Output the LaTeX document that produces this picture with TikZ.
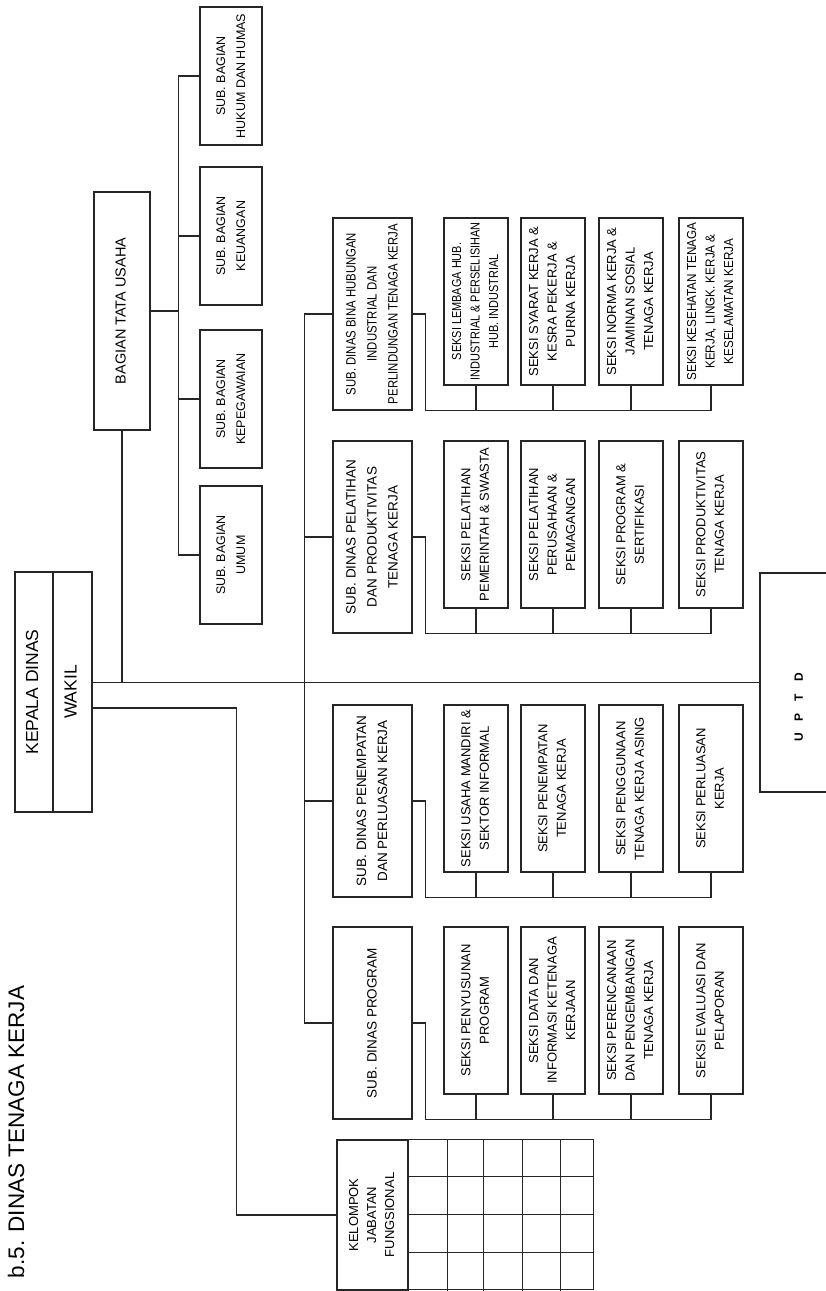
\documentclass[tikz,border=0pt]{standalone}
\usepackage{fontspec}
\usepackage{graphicx}
\setmainfont{Liberation Sans}
\usetikzlibrary{calc}

% rotated label, squeezed when longer than #1
\newsavebox\lblbox
\newcommand\vtext[2]{%
  \sbox\lblbox{\begin{tabular}{@{}c@{}}#2\end{tabular}}%
  \rotatebox{90}{\ifdim\wd\lblbox>#1\relax\resizebox{#1}{\height}{\usebox\lblbox}\else\usebox\lblbox\fi}}

\begin{document}
\begin{tikzpicture}[x=1pt,y=-1pt,
    box/.style={draw=black!85,line width=1.2pt,inner sep=0pt},
    link/.style={draw=black!85,line width=1.2pt},
    seksi/.style={box,minimum width=64pt,minimum height=167pt,font=\fontsize{13}{18.5}\selectfont},
    subdinas/.style={box,minimum width=79pt,minimum height=192pt,font=\fontsize{13.5}{21}\selectfont},
    subbag/.style={box,minimum width=62pt,minimum height=138pt,font=\fontsize{12.5}{20}\selectfont}]
    \useasboundingbox (0,0) rectangle (826,1291);

    \node[rotate=90,font=\fontsize{22.5}{26}\selectfont] (title) at (16,1132) {b.5. DINAS TENAGA KERJA};

    % pimpinan
    \node[box,minimum width=38pt,minimum height=240pt,font=\fontsize{17.5}{21}\selectfont]
        (kd) at (34,692) {\vtext{230pt}{KEPALA DINAS}};
    \node[box,minimum width=39pt,minimum height=240pt,font=\fontsize{17.5}{21}\selectfont]
        (wk) at (72.5,692) {\vtext{230pt}{WAKIL}};
    \node[box,minimum width=80pt,minimum height=219pt,font=\bfseries\fontsize{12}{14}\selectfont]
        (uptd) at (800,682.5) {\vtext{200pt}{U\quad P\quad T\quad D\hspace*{50pt}}};

    % sekretariat
    \node[box,minimum width=56pt,minimum height=238pt,font=\fontsize{14.5}{18}\selectfont]
        (btu) at (122,311) {\vtext{220pt}{BAGIAN TATA USAHA}};
    \node[subbag] (hk) at (231,76) {\vtext{128pt}{SUB. BAGIAN\\HUKUM DAN HUMAS}};
    \node[subbag] (ku) at (231,236) {\vtext{128pt}{SUB. BAGIAN\\KEUANGAN}};
    \node[subbag] (kp) at (231,399) {\vtext{128pt}{SUB. BAGIAN\\KEPEGAWAIAN}};
    \node[subbag] (um) at (231,555) {\vtext{128pt}{SUB. BAGIAN\\UMUM}};

    % sub dinas
    \node[subdinas] (sdbh) at (372.5,314) {\vtext{180pt}{SUB. DINAS BINA HUBUNGAN\\INDUSTRIAL DAN\\PERLINDUNGAN TENAGA KERJA}};
    \node[subdinas] (sdpl) at (372.5,537) {\vtext{180pt}{SUB. DINAS PELATIHAN\\DAN PRODUKTIVITAS\\TENAGA KERJA}};
    \node[subdinas] (sdpp) at (372.5,801) {\vtext{180pt}{SUB. DINAS PENEMPATAN\\DAN PERLUASAN KERJA}};
    \node[subdinas] (sdpr) at (372.5,1023) {\vtext{180pt}{SUB. DINAS PROGRAM}};

    % seksi
    \node[seksi] (bh1) at (476,301.5) {\vtext{158pt}{SEKSI LEMBAGA HUB.\\INDUSTRIAL \& PERSELISIHAN\\HUB. INDUSTRIAL}};
    \node[seksi] (bh2) at (553,301.5) {\vtext{158pt}{SEKSI SYARAT KERJA \&\\KESRA PEKERJA \&\\PURNA KERJA}};
    \node[seksi] (bh3) at (631,301.5) {\vtext{158pt}{SEKSI NORMA KERJA \&\\JAMINAN SOSIAL\\TENAGA KERJA}};
    \node[seksi] (bh4) at (711,301.5) {\vtext{158pt}{SEKSI KESEHATAN TENAGA\\KERJA, LINGK. KERJA \&\\KESELAMATAN KERJA}};

    \node[seksi] (pl1) at (476,524.5) {\vtext{158pt}{SEKSI PELATIHAN\\PEMERINTAH \& SWASTA}};
    \node[seksi] (pl2) at (553,524.5) {\vtext{158pt}{SEKSI PELATIHAN\\PERUSAHAAN \&\\PEMAGANGAN}};
    \node[seksi] (pl3) at (631,524.5) {\vtext{158pt}{SEKSI PROGRAM \&\\SERTIFIKASI}};
    \node[seksi] (pl4) at (711,524.5) {\vtext{158pt}{SEKSI PRODUKTIVITAS\\TENAGA KERJA}};

    \node[seksi] (pp1) at (476,788.5) {\vtext{158pt}{SEKSI USAHA MANDIRI \&\\SEKTOR INFORMAL}};
    \node[seksi] (pp2) at (553,788.5) {\vtext{158pt}{SEKSI PENEMPATAN\\TENAGA KERJA}};
    \node[seksi] (pp3) at (631,788.5) {\vtext{158pt}{SEKSI PENGGUNAAN\\TENAGA KERJA ASING}};
    \node[seksi] (pp4) at (711,788.5) {\vtext{158pt}{SEKSI PERLUASAN\\KERJA}};

    \node[seksi] (pr1) at (476,1010.5) {\vtext{158pt}{SEKSI PENYUSUNAN\\PROGRAM}};
    \node[seksi] (pr2) at (553,1010.5) {\vtext{158pt}{SEKSI DATA DAN\\INFORMASI KETENAGA\\KERJAAN}};
    \node[seksi] (pr3) at (631,1010.5) {\vtext{158pt}{SEKSI PERENCANAAN\\DAN PENGEMBANGAN\\TENAGA KERJA}};
    \node[seksi] (pr4) at (711,1010.5) {\vtext{158pt}{SEKSI EVALUASI DAN\\PELAPORAN}};

    % kelompok jabatan fungsional
    \node[box,minimum width=71pt,minimum height=150pt,font=\fontsize{13}{18}\selectfont]
        (kjf) at (372.5,1215) {\vtext{140pt}{KELOMPOK\\JABATAN\\FUNGSIONAL}};
    \draw[link,line width=1.5pt] (kjf.north east) rectangle ++(185,150);
    \foreach \x in {39,75,114,152}
        \draw[link,line width=1.5pt] ([xshift=\x pt]kjf.north east) -- ([xshift=\x pt]kjf.south east);
    \foreach \y in {37,75,113}
        \draw[link,line width=1.5pt] ([yshift=-\y pt]kjf.north east) -- ++(185,0);

    % garis komando
    \draw[link] (wk.east |- uptd.west) -- (uptd.west);
    \draw[link] (btu.south) -- (btu.south |- uptd.west);
    \draw[link] ([yshift=-16pt]wk.east) -| ([xshift=-100pt]kjf.west) -- (kjf.west);

    \draw[link] (btu.east) -- ++(28,0) coordinate (sbspine);
    \foreach \n in {hk,ku,kp,um}
        \draw[link] (\n.west) -| (sbspine);

    \path (sdbh.west) ++(-28,0) coordinate (sdx);
    \foreach \n in {sdbh,sdpl,sdpp,sdpr}
        \draw[link] (\n.west) -| (sdx |- uptd.west);

    \foreach \g/\s in {bh/sdbh,pl/sdpl,pp/sdpp,pr/sdpr} {
        \draw[link] (\s.east) -- ++(13,0) |- (\g4.south |- \s.south);
        \foreach \i in {1,2,3,4}
            \draw[link] (\g\i.south) -- (\g\i.south |- \s.south);
    }
\end{tikzpicture}
\end{document}
